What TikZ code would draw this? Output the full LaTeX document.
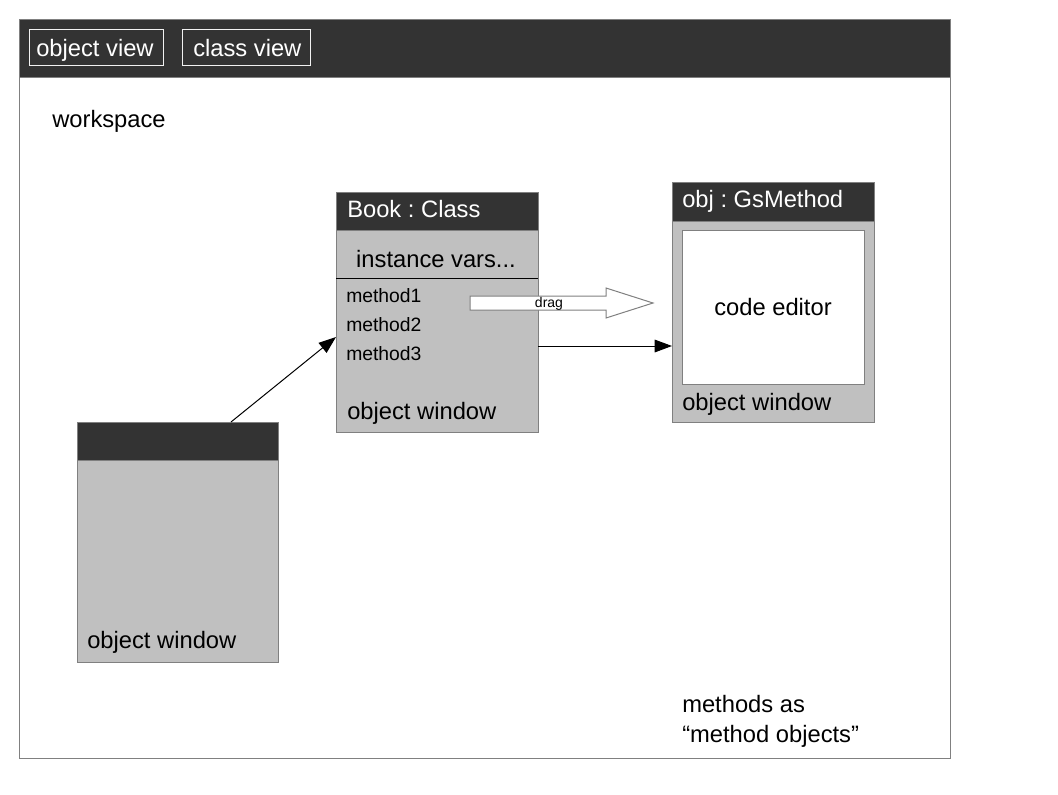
\documentclass[tikz,border=0pt]{standalone}
\usepackage{fontspec}
\setmainfont{Liberation Sans}
\usetikzlibrary{arrows.meta,calc}
\definecolor{hdr}{HTML}{333333}
\definecolor{win}{HTML}{C0C0C0}
\definecolor{edge}{HTML}{808080}
\begin{document}
\frenchspacing
\begin{tikzpicture}[x=0.75pt,y=-0.75pt,
  box/.style={draw=edge,line width=0.75pt,inner sep=0pt,outer sep=0pt,anchor=north west},
  winbox/.style={box,fill=win},
  hdrbox/.style={box,fill=hdr},
  btn/.style={box,draw=white!90!gray,minimum height=27pt},
  txt/.style={inner sep=0pt,anchor=base west,font=\fontsize{17.8}{21}\selectfont},
  wtxt/.style={txt,text=white},
  small/.style={inner sep=0pt,anchor=base west,font=\fontsize{14.5}{16}\selectfont},
  conn/.style={draw=black,line width=0.75pt,-{Triangle[length=13pt,width=9.5pt]}}]
\useasboundingbox (0,0) rectangle (1058,794);
\fill[white] (0,0) rectangle (1058,794);
% frame and header
\node[box,fill=white,minimum width=698.25pt,minimum height=554.25pt] (frame) at (19,19) {};
\node[hdrbox,minimum width=698.25pt,minimum height=43.5pt] (bar) at (19,19) {};
\node[btn,minimum width=100.5pt] (b1) at (29,29) {};
\node[btn,minimum width=96pt] (b2) at (182,29) {};
\node[wtxt] (b1t) at (36,56) {object view};
\node[wtxt] (b2t) at (193,56) {class view};
\node[txt] (ws) at (52,127) {workspace};
% Book class window
\node[winbox,minimum width=151.5pt,minimum height=180pt] (book) at (336,192) {};
\node[hdrbox,minimum width=151.5pt,minimum height=28.5pt] (bookh) at (336,192) {};
\node[wtxt] (bookt) at (347,217) {Book : Class};
\node[txt,anchor=base] (iv) at (436,267) {instance vars...};
\coordinate (sepL) at (336,278);
\coordinate (sepR) at (538,278);
\draw[line width=0.75pt] (sepL) -- (sepR);
\node[small] (m1) at (346,302) {method1};
\node[small] (m2) at (346,331) {method2};
\node[small] (m3) at (346,360) {method3};
\node[txt] (bookow) at (347,419) {object window};
% GsMethod window
\node[winbox,minimum width=151.5pt,minimum height=180pt] (gs) at (672,182) {};
\node[hdrbox,minimum width=151.5pt,minimum height=29.25pt] (gsh) at (672,182) {};
\node[wtxt] (gst) at (682,207) {obj : GsMethod};
\node[box,fill=white,minimum width=136.5pt,minimum height=115.5pt] (ed) at (682,230) {};
\node[txt,anchor=base] (edt) at (773,315) {code editor};
\node[txt] (gsow) at (682,410) {object window};
% left window
\node[winbox,minimum width=150.75pt,minimum height=180pt] (left) at (77,422) {};
\node[hdrbox,minimum width=150.75pt,minimum height=28.5pt] (lefth) at (77,422) {};
\node[txt] (leftow) at (87,648) {object window};
% note
\node[txt] (n1) at (682,712) {methods as};
\node[txt] (n2) at (682,742) {“method objects”};
% drag arrow
\coordinate (d0) at (470,296);
\draw[draw=edge,fill=white,line width=0.75pt] (d0) -- ++(136,0) -- ++(0,-8) -- ++(47,15) -- ++(-47,15) -- ++(0,-8) -- ++(-136,0) -- cycle;
\node[inner sep=0pt,anchor=base,font=\fontsize{10.5}{12}\selectfont] (drag) at (549,307) {drag};
% connectors
\draw[conn] ($(left.north west)+(154,0)$) -- ($(book.north west)+(0,145)$);
\draw[conn] ($(book.east)+(0,34)$) -- ($(gs.west)+(0,44)$);
\end{tikzpicture}
\end{document}
